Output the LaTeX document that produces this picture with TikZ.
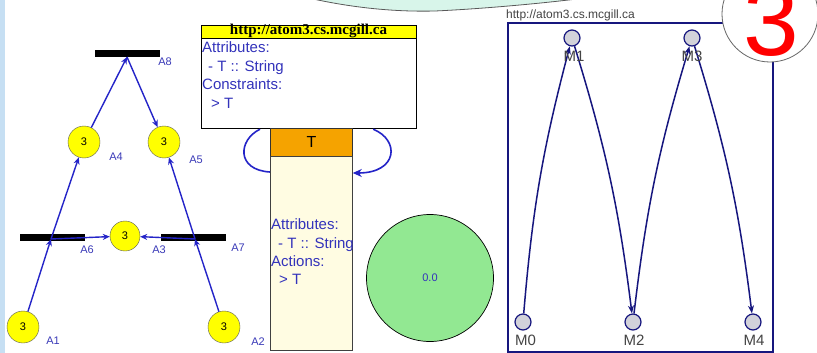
\documentclass[tikz,border=0pt]{standalone}
\usepackage{fontspec}
\setmainfont{Liberation Sans}
\newfontfamily\hdrfont{Liberation Serif}
\usetikzlibrary{arrows.meta,calc}
\definecolor{stripblue}{HTML}{C6DFF3}
\definecolor{arcblue}{HTML}{2424C8}
\definecolor{lblue}{HTML}{3A3AB8}
\definecolor{ctext}{HTML}{3333BB}
\definecolor{navy}{HTML}{16167E}
\definecolor{mgray}{HTML}{D2D2DA}
\definecolor{mtext}{HTML}{444444}
\definecolor{orangebox}{HTML}{F5A300}
\definecolor{creambox}{HTML}{FFFCE2}
\definecolor{greencirc}{HTML}{92E892}
\definecolor{mint}{HTML}{D8F5EA}
\definecolor{placey}{HTML}{FFFF00}
\begin{document}
\begin{tikzpicture}[x=1pt,y=-1pt,
  place/.style={circle,draw=black!65,fill=placey,minimum size=32pt,inner sep=0pt,font=\fontsize{11}{11}\selectfont},
  tbar/.style={fill=black,minimum width=65pt,minimum height=7pt,inner sep=0pt},
  plabel/.style={text=lblue,font=\fontsize{11}{11}\selectfont,inner sep=0pt},
  parc/.style={draw=arcblue,line width=1.4pt,-{Stealth[length=7pt,width=6pt]}},
  mstate/.style={circle,draw=navy,line width=1.2pt,fill=mgray,minimum size=16pt,inner sep=0pt},
  mlabel/.style={text=mtext,font=\fontsize{15}{15}\selectfont,inner sep=0pt},
  marc/.style={draw=navy,line width=1.5pt,-{Stealth[length=8pt,width=6pt]}},
  cltext/.style={text=ctext,font=\fontsize{15}{15}\selectfont,inner sep=0pt,anchor=base west},
  loopline/.style={draw=arcblue,line width=1.6pt}
]
\useasboundingbox (0,0) rectangle (817,353);
\fill[white] (0,0) rectangle (817,353);
\fill[stripblue] (0,0) rectangle (5,353);

% speech bubble at top
\fill[mint] (300,-20) -- (300,-4) .. controls (350,8) and (395,12) .. (435,11)
  .. controls (480,9) and (550,3) .. (600,-4) -- (600,-20) -- cycle;
\draw[black!65,line width=0.8pt] (300,-4) .. controls (350,8) and (395,12) .. (435,11)
  .. controls (480,9) and (550,3) .. (600,-4);

% ---------- Petri net ----------
\node[tbar] (A8) at (127,53.5) {};
\node[tbar] (A6) at (52.5,237) {};
\node[tbar] (A7) at (193.5,237) {};
\coordinate (A8in) at (127,57);
\coordinate (A6in) at (51,239);
\coordinate (A7in) at (195,239);

\node[place] (A4) at (84,142) {3};
\node[place] (A5) at (164,142) {3};
\node[place,minimum size=30pt] (A3) at (125,236) {3};
\node[place] (A1) at (23,327) {3};
\node[place] (A2) at (224,327) {3};

\node[plabel] (lA8) at (165,62) {A8};
\node[plabel] (lA4) at (116,157) {A4};
\node[plabel] (lA5) at (196,160) {A5};
\node[plabel] (lA6) at (87,249.5) {A6};
\node[plabel] (lA3) at (159,250) {A3};
\node[plabel] (lA7) at (238,248) {A7};
\node[plabel] (lA1) at (53,341) {A1};
\node[plabel] (lA2) at (258,342) {A2};

\draw[parc] (A1) -- (A6in);
\draw[parc] (A6in) -- (A4);
\draw[parc] (A6in) -- (A3);
\draw[parc] (A4) -- (A8in);
\draw[parc] (A8in) -- (A5);
\draw[parc] (A2) -- (A7in);
\draw[parc] (A7in) -- (A5);
\draw[parc] (A7in) -- (A3);

% ---------- class diagram ----------
\node[draw=black,line width=1.2pt,fill=white,anchor=north west,minimum width=215pt,minimum height=103pt,inner sep=0pt] (cls) at (201,25) {};
\node[fill=placey,draw=black,line width=1pt,anchor=north west,minimum width=215pt,minimum height=13pt,inner sep=0pt] (hdr) at (201,25) {};
\node[inner sep=0pt,anchor=base,font=\hdrfont\bfseries\fontsize{15}{15}\selectfont] (hdrtxt) at (308.5,35) {http://atom3.cs.mcgill.ca};
\node[cltext] (c1) at (202,53) {Attributes:};
\node[cltext] (c2) at (208,71) {- T :: String};
\node[cltext] (c3) at (202,89.5) {Constraints:};
\node[cltext] (c4) at (211,108) {> T};

\node[draw=black!80,line width=0.8pt,fill=orangebox,anchor=north west,minimum width=82pt,minimum height=28pt,inner sep=0pt,font=\fontsize{16}{16}\selectfont] (tbox) at (270,128) {T};
\node[draw=black!75,line width=0.8pt,fill=creambox,anchor=north west,minimum width=82pt,minimum height=194pt,inner sep=0pt] (body) at (270,156) {};
\node[cltext] (b1) at (271,229) {Attributes:};
\node[cltext] (b2) at (278,248) {- T :: String};
\node[cltext] (b3) at (271,266) {Actions:};
\node[cltext] (b4) at (279,284) {> T};

\coordinate (lpA) at ($(cls.south west)+(59,0)$);
\coordinate (lpB) at ($(body.north west)+(0,16)$);
\coordinate (lpC) at ($(cls.south east)+(-44,0)$);
\coordinate (lpD) at ($(body.north east)+(0,17)$);
\draw[loopline] (lpA) .. controls (238,140) and (236,170) .. (lpB);
\draw[loopline,-{Stealth[length=9pt,width=8pt]}] (lpC) .. controls (400,140) and (398,173) .. (lpD);

% green circle
\node[circle,draw=black,line width=0.7pt,fill=greencirc,minimum size=127pt,inner sep=0pt,text=ctext,font=\fontsize{11}{11}\selectfont] (gc) at (430,278) {0.0};

% ---------- M net ----------
\node[draw=navy,line width=1.6pt,anchor=north west,minimum width=265pt,minimum height=329pt,inner sep=0pt] (mbox) at (507,22) {};
\node[text=mtext,inner sep=0pt,anchor=base west,font=\fontsize{12}{12}\selectfont] (mtitle) at (506,19) {http://atom3.cs.mcgill.ca};

\node[mstate] (M1) at (572,38) {};
\node[mstate] (M3) at (692,38) {};
\node[mstate] (M0) at (523,322) {};
\node[mstate] (M2) at (633,322) {};
\node[mstate] (M4) at (753,322) {};

\draw[marc] (M0) to[bend left=5] (M1);
\draw[marc] (M1) to[bend left=5] (M2);
\draw[marc] (M2) to[bend left=5] (M3);
\draw[marc] (M3) to[bend left=5] (M4);

\node[mlabel] (lM1) at (574,56) {M1};
\node[mlabel] (lM3) at (692,56) {M3};
\node[mlabel] (lM0) at (525.5,340) {M0};
\node[mlabel] (lM2) at (634,340) {M2};
\node[mlabel] (lM4) at (754,340) {M4};

% big red 3
\node[circle,draw=black!60,line width=0.8pt,fill=white,minimum size=96pt,inner sep=0pt] (big) at (770,14) {};
\node[text=red,inner sep=0pt,anchor=base,font=\fontsize{100}{100}\selectfont] (bigtxt) at (771,56) {3};
\end{tikzpicture}
\end{document}
